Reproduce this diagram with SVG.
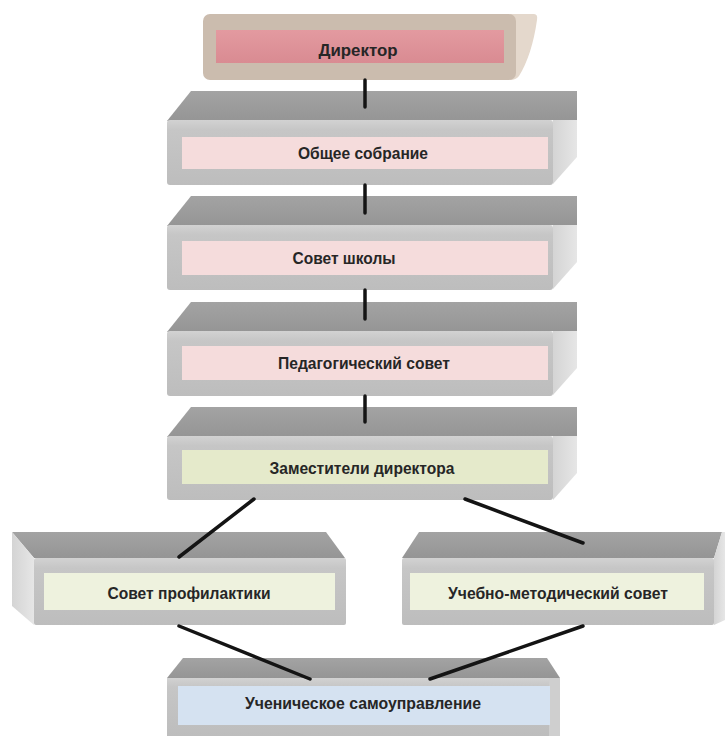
<svg xmlns="http://www.w3.org/2000/svg" width="725" height="736" viewBox="0 0 725 736">
<defs>
<linearGradient id="gFront" x1="0" y1="0" x2="0" y2="1">
<stop offset="0" stop-color="#d2d2d2"/>
<stop offset="0.15" stop-color="#c6c6c6"/>
<stop offset="1" stop-color="#bdbdbd"/>
</linearGradient>
<linearGradient id="gTop" x1="0" y1="0" x2="0" y2="1">
<stop offset="0" stop-color="#a3a3a3"/>
<stop offset="1" stop-color="#959595"/>
</linearGradient>
<linearGradient id="gSide" x1="0" y1="0" x2="1" y2="0">
<stop offset="0" stop-color="#d4d4d4"/>
<stop offset="1" stop-color="#e6e6e6"/>
</linearGradient>
<linearGradient id="gDir" x1="0" y1="0" x2="0" y2="1">
<stop offset="0" stop-color="#e39aa0"/>
<stop offset="1" stop-color="#d98b92"/>
</linearGradient>
</defs>
<style>
.top{fill:url(#gTop)}
.front{fill:url(#gFront)}
.side{fill:url(#gSide)}
.pink{fill:#f5dcdc}
.green{fill:#e5eacb}
.pale{fill:#eef2de}
.blue{fill:#d5e2f1}
.lbl{font-family:"Liberation Sans",Arial,sans-serif;font-weight:bold;font-size:16.5px;fill:#262626;text-anchor:middle}
.conn{stroke:#141414;stroke-width:3.5;fill:none;stroke-linecap:round}
</style>
<rect width="725" height="736" fill="#ffffff"/>

<g id="director">
<path d="M510,14 L534,14 Q538,14 537,20 Q532,55 519,76 Q516,80 510,80 Z" fill="#e4d8cc"/>
<rect x="203" y="14" width="313" height="66" rx="7" fill="#cbbcae"/>
<rect x="216" y="30" width="288" height="33" fill="url(#gDir)"/>
<text class="lbl" x="358" y="56" textLength="79" lengthAdjust="spacingAndGlyphs" fill="#3a2424">Директор</text>
</g>

<g id="general-meeting">
<polygon class="top" points="191,91 577,91 577,120 167,121"/>
<polygon class="side" points="553,120 577,120 577,157 553,184"/>
<rect class="front" x="167" y="120" width="386" height="65" rx="3"/>
<rect class="pink" x="182" y="137" width="366" height="32"/>
<text class="lbl" x="363" y="159" textLength="130" lengthAdjust="spacingAndGlyphs">Общее собрание</text>
</g>

<g id="school-council">
<polygon class="top" points="191,196 577,196 577,225 167,226"/>
<polygon class="side" points="553,225 577,225 577,262 553,289"/>
<rect class="front" x="167" y="225" width="386" height="65" rx="3"/>
<rect class="pink" x="182" y="241" width="366" height="34"/>
<text class="lbl" x="344" y="264" textLength="103" lengthAdjust="spacingAndGlyphs">Совет школы</text>
</g>

<g id="pedagogical-council">
<polygon class="top" points="191,302 577,302 577,331 167,332"/>
<polygon class="side" points="553,331 577,331 577,368 553,395"/>
<rect class="front" x="167" y="331" width="386" height="65" rx="3"/>
<rect class="pink" x="182" y="346" width="366" height="34"/>
<text class="lbl" x="364" y="369" textLength="172" lengthAdjust="spacingAndGlyphs">Педагогический совет</text>
</g>

<g id="deputies">
<polygon class="top" points="191,407 577,407 577,436 167,437"/>
<polygon class="side" points="553,436 577,436 577,473 553,500"/>
<rect class="front" x="167" y="436" width="386" height="64" rx="3"/>
<rect class="green" x="182" y="450" width="366" height="34"/>
<text class="lbl" x="362" y="474" textLength="185" lengthAdjust="spacingAndGlyphs">Заместители директора</text>
</g>

<g id="prevention-council">
<polygon class="top" points="12,532 326,532 345,558 34,558"/>
<polygon class="side" points="12,532 34,558 34,625 12,606"/>
<rect class="front" x="34" y="558" width="312" height="67" rx="2"/>
<rect class="pale" x="44" y="573" width="291" height="37"/>
<text class="lbl" x="189" y="599" textLength="163" lengthAdjust="spacingAndGlyphs">Совет профилактики</text>
</g>

<g id="methodical-council">
<polygon class="top" points="419,532 722,532 714,558 402,558"/>
<polygon class="side" points="714,558 722,532 725,532 725,620 714,625"/>
<rect class="front" x="402" y="558" width="312" height="67" rx="2"/>
<rect class="pale" x="410" y="573" width="294" height="37"/>
<text class="lbl" x="558" y="599" textLength="220" lengthAdjust="spacingAndGlyphs">Учебно-методический совет</text>
</g>

<g id="student-government">
<polygon class="top" points="183,658 547,658 560,678 167,678"/>
<rect class="front" x="167" y="678" width="393" height="58"/>
<rect x="549" y="678" width="11" height="58" fill="#cfcfcf"/>
<rect class="blue" x="178" y="686" width="372" height="39"/>
<text class="lbl" x="363" y="709" textLength="236" lengthAdjust="spacingAndGlyphs">Ученическое самоуправление</text>
</g>

<g id="connectors">
<line class="conn" x1="365" y1="80" x2="365" y2="107"/>
<line class="conn" x1="365" y1="185" x2="365" y2="213"/>
<line class="conn" x1="365" y1="290" x2="365" y2="319"/>
<line class="conn" x1="365" y1="396" x2="365" y2="422"/>
<line class="conn" x1="254" y1="499" x2="179" y2="557"/>
<line class="conn" x1="465" y1="499" x2="583" y2="543"/>
<line class="conn" x1="179" y1="626" x2="310" y2="679"/>
<line class="conn" x1="583" y1="626" x2="430" y2="679"/>
</g>
</svg>
